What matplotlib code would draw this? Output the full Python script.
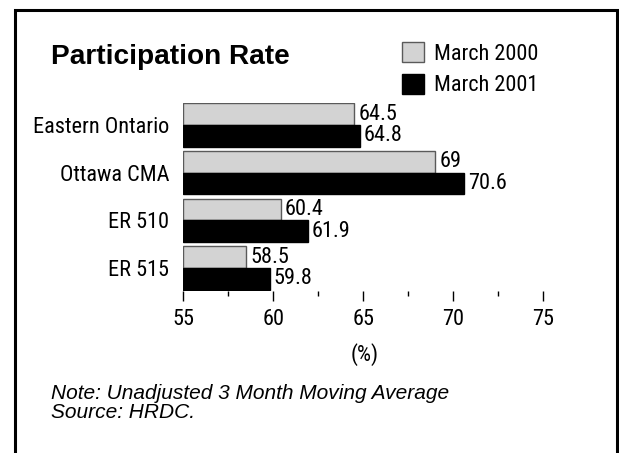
"""Participation rate comparison, March 2000 vs March 2001."""

import matplotlib

matplotlib.use("Agg")
import matplotlib.pyplot as plt
import numpy as np
from matplotlib.font_manager import FontProperties
from matplotlib.lines import Line2D
from matplotlib.patches import Patch

regions = ["Eastern Ontario", "Ottawa CMA", "ER 510", "ER 515"]
march_2000 = [64.5, 69.0, 60.4, 58.5]
march_2001 = [64.8, 70.6, 61.9, 59.8]
series_labels = ["March 2000", "March 2001"]
x_ticks = [55, 60, 65, 70, 75]

WIDE = ["Liberation Sans", "DejaVu Sans"]
GRAY = "#d3d3d3"
GRAY_EDGE = "#5a5a5a"


def narrow(size=16):
    return FontProperties(family=["Roboto Condensed", "Liberation Sans Narrow",
                                  "DejaVu Sans"],
                          stretch="condensed", size=size)


W, H = 619, 453
fig = plt.figure(figsize=(W / 100, H / 100), dpi=100)
ax = fig.add_axes([183.3 / W, 1 - 290.8 / H, 360 / W, 187.5 / H])

positions = np.arange(len(regions))
bar_height = 0.455
base = x_ticks[0]

old_bars = ax.barh(positions - bar_height / 2, np.subtract(march_2000, base),
                   left=base, height=bar_height, color=GRAY,
                   edgecolor=GRAY_EDGE, linewidth=1.0)
new_bars = ax.barh(positions + bar_height / 2, np.subtract(march_2001, base),
                   left=base, height=bar_height, color="black",
                   edgecolor="black", linewidth=1.0)

for bars, values in ((old_bars, march_2000), (new_bars, march_2001)):
    for bar, value in zip(bars, values):
        ax.annotate(f"{value:g}", (value, bar.get_y() + bar.get_height() / 2),
                    xytext=(3, 0), textcoords="offset points",
                    ha="left", va="center", fontproperties=narrow())

ax.set_xlim(x_ticks[0], x_ticks[-1])
ax.set_ylim(3.475, -0.455)
ax.set_yticks(positions, regions, fontproperties=narrow())
ax.tick_params(axis="y", length=0, pad=10)
ax.set_xticks(x_ticks, [str(t) for t in x_ticks], fontproperties=narrow())
ax.set_xticks(np.arange(57.5, 75, 5), minor=True)
ax.tick_params(axis="x", which="major", length=7.2, width=1, pad=6)
ax.tick_params(axis="x", which="minor", length=3.6, width=1)
for spine in ax.spines.values():
    spine.set_visible(False)

fig.text(365 / W, 1 - 355 / H, "(%)", ha="center", va="center",
         fontproperties=narrow())

fig.text(51 / W, 1 - 57 / H, "Participation Rate", ha="left", va="center",
         fontsize=20.2, fontweight="bold", family=WIDE)

handles = [Patch(facecolor=GRAY, edgecolor=GRAY_EDGE, linewidth=1.0),
           Patch(facecolor="black", edgecolor="black")]
fig.legend(handles, series_labels, loc="upper left",
           bbox_to_anchor=(402 / W, 1 - 42 / H), frameon=False,
           prop=narrow(), handlelength=1.0,
           handleheight=1.0, handletextpad=0.45, labelspacing=0.42,
           borderpad=0, borderaxespad=0)

fig.text(51 / W, 1 - 399 / H, "Note: Unadjusted 3 Month Moving Average",
         ha="left", va="baseline", fontsize=15, style="italic", family=WIDE)
fig.text(51 / W, 1 - 418 / H, "Source: HRDC.",
         ha="left", va="baseline", fontsize=15, style="italic", family=WIDE)

# open-bottomed frame round the whole panel
fig.add_artist(Line2D([14.5 / W, 14.5 / W, 616.5 / W, 616.5 / W],
                      [-0.05, 1 - 9.5 / H, 1 - 9.5 / H, -0.05],
                      transform=fig.transFigure, color="black", linewidth=2.2,
                      solid_joinstyle="miter", clip_on=False))

fig.savefig("out.png", dpi=100, facecolor="white")
